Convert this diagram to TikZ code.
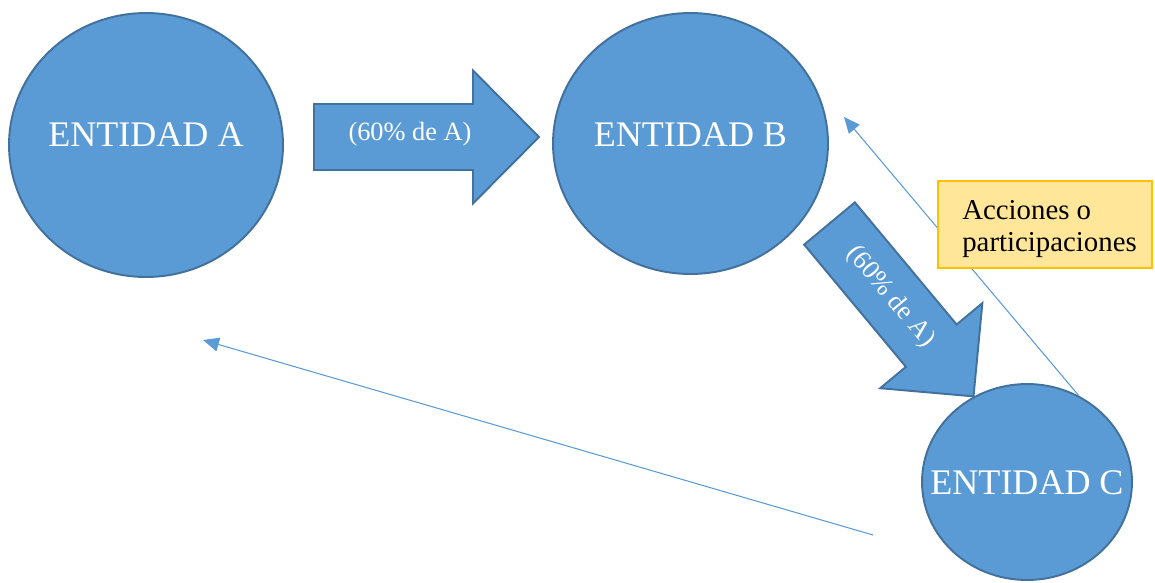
\documentclass[tikz,border=0pt]{standalone}
\usepackage{fontspec}
\setmainfont{Liberation Serif}
\usetikzlibrary{arrows.meta,positioning,shapes.geometric}
\definecolor{entityblue}{HTML}{5B9BD5}
\definecolor{entityedge}{HTML}{41719C}
\definecolor{noteyellow}{HTML}{FFE699}
\definecolor{noteedge}{HTML}{FFC000}

\begin{document}
\begin{tikzpicture}[
    x=0.02cm, y=-0.02cm,
    % Style definitions
    entity/.style={ellipse, draw=entityedge, fill=entityblue, line width=1.1pt, text=white, font=\fontsize{20.5}{24}\selectfont, inner sep=0pt},
    blockarrow/.style={draw=entityedge, fill=entityblue, line width=1.1pt, line join=miter},
    arrowtext/.style={text=white, font=\fontsize{15}{18}\selectfont, inner sep=0pt},
    note/.style={rectangle, draw=noteedge, fill=noteyellow, line width=1.4pt, inner sep=0pt, font=\fontsize{16.4}{18.2}\selectfont, minimum width=4.28cm, minimum height=1.74cm},
    thinarrow/.style={-{Triangle[length=0.32cm, width=0.28cm]}, draw=entityblue, line width=0.6pt}
]
\useasboundingbox (0,0) rectangle (1155,582);

% Entities
\node[entity, minimum width=5.48cm, minimum height=5.28cm] (A) at (146,145) {\raisebox{-0.02cm}[0pt][0pt]{\makebox[0pt]{ENTIDAD A}}};
\node[entity, minimum width=5.5cm, minimum height=5.22cm] (B) at (690.5,143.5) {\raisebox{-0.05cm}[0pt][0pt]{\makebox[0pt]{ENTIDAD B}}};
\node[entity, minimum width=4.2cm, minimum height=3.92cm] (C) at (1027,482) {\raisebox{-0.24cm}[0pt][0pt]{\makebox[0pt]{ENTIDAD C}}};

% Block arrows with shares
\begin{scope}[shift={(314,137)}]
    \draw[blockarrow] (0,-33) -- (159,-33) -- (159,-66.5) -- (225,0) -- (159,66.5) -- (159,33) -- (0,33) -- cycle;
    \node[arrowtext] (shareAB) at (96,-3) {(60\% de A)};
\end{scope}
\begin{scope}[shift={(829.5,223.5)}, rotate=-50.2]
    \draw[blockarrow] (0,-33) -- (159,-33) -- (159,-66.5) -- (225,0) -- (159,66.5) -- (159,33) -- (0,33) -- cycle;
    \node[arrowtext, rotate=-50.2] (shareBC) at (95,0) {(60\% de A)};
\end{scope}

% Return connections
\coordinate (Btip) at (844,117);
\coordinate (Cstart) at (873,535);
\coordinate (Atip) at (203,340);
\draw[thinarrow] (C.59) -- (Btip);
\draw[thinarrow] (Cstart) -- (Atip);

% Annotation
\node[note] (shares) at (1045,224.5) {\raisebox{-0.24cm}[0pt][0pt]{\makebox[0pt]{\hspace{0.18cm}\begin{tabular}{@{}l@{}}Acciones o\\participaciones\end{tabular}}}};

\end{tikzpicture}
\end{document}
